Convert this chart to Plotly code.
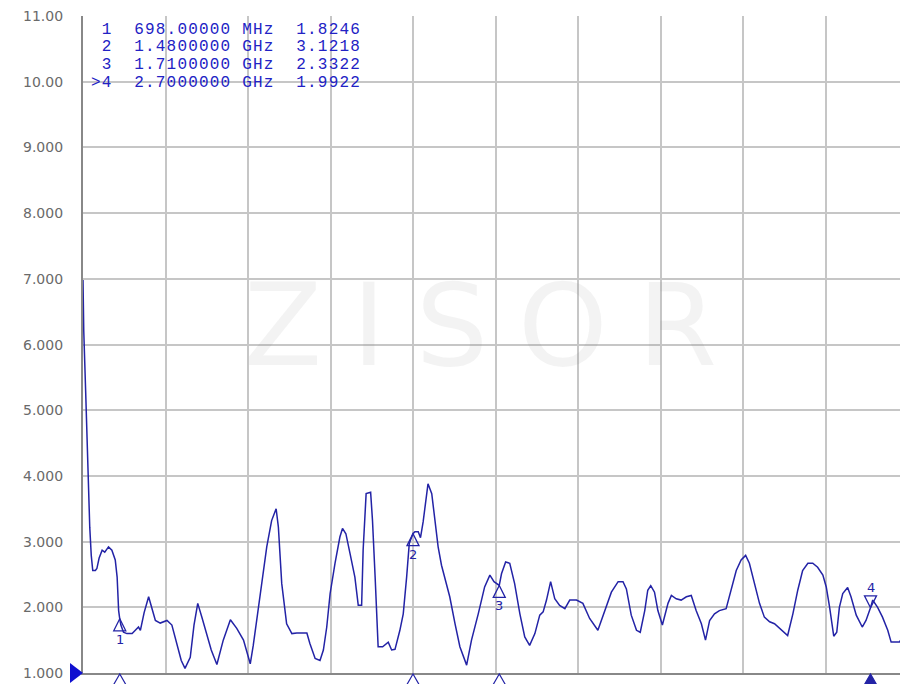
import plotly.graph_objects as go

# ---------------- data ----------------
freq_mhz = [
    600, 602, 607, 613, 618, 622, 626, 633, 637, 643,
    651, 658, 668, 677, 686, 691, 695, 698, 701, 708,
    717, 731, 739, 748, 753, 763, 775, 785, 793, 806,
    824, 837, 850, 862, 872, 886, 896, 906, 917, 930,
    942, 957, 974, 993, 1010, 1028, 1046, 1054, 1068, 1078,
    1090, 1103, 1115, 1121, 1130, 1143, 1157, 1170, 1197, 1205,
    1219, 1232, 1241, 1250, 1259, 1272, 1285, 1292, 1301, 1312,
    1325, 1334, 1343, 1347, 1352, 1355, 1367, 1372, 1379, 1383,
    1387, 1399, 1414, 1423, 1432, 1445, 1454, 1463, 1470, 1480,
    1485, 1494, 1500, 1507, 1514, 1520, 1530, 1538, 1547, 1556,
    1565, 1578, 1592, 1605, 1623, 1636, 1654, 1671, 1685, 1696,
    1710, 1716, 1727, 1738, 1751, 1765, 1778, 1791, 1805, 1818,
    1827, 1836, 1847, 1858, 1871, 1885, 1898, 1916, 1933, 1951,
    1973, 1991, 2009, 2027, 2040, 2049, 2062, 2076, 2086, 2098,
    2106, 2114, 2124, 2133, 2145, 2160, 2169, 2182, 2195, 2209,
    2222, 2235, 2249, 2260, 2271, 2284, 2297, 2315, 2329, 2342,
    2355, 2367, 2377, 2391, 2404, 2417, 2431, 2444, 2462, 2479,
    2493, 2506, 2519, 2533, 2546, 2559, 2573, 2582, 2591, 2598,
    2602, 2610, 2617, 2626, 2639, 2648, 2662, 2678, 2688, 2700,
    2706, 2719, 2732, 2746, 2755, 2777, 2786, 2793, 2800,
]
swr = [
    6.98, 6.21, 5.30, 4.09, 3.22, 2.79, 2.56, 2.56, 2.59, 2.75,
    2.87, 2.84, 2.92, 2.87, 2.72, 2.46, 1.95, 1.8246, 1.73, 1.62,
    1.60, 1.60, 1.65, 1.70, 1.65, 1.92, 2.16, 1.98, 1.80, 1.76,
    1.80, 1.73, 1.45, 1.19, 1.07, 1.24, 1.73, 2.06, 1.85, 1.60,
    1.35, 1.13, 1.50, 1.81, 1.68, 1.50, 1.14, 1.42, 2.03, 2.41,
    2.92, 3.32, 3.50, 3.22, 2.36, 1.75, 1.60, 1.61, 1.61, 1.45,
    1.22, 1.19, 1.35, 1.70, 2.21, 2.67, 3.07, 3.20, 3.12, 2.82,
    2.46, 2.03, 2.03, 2.87, 3.30, 3.73, 3.75, 3.32, 2.46, 1.85,
    1.40, 1.40, 1.47, 1.35, 1.36, 1.65, 1.90, 2.46, 2.97, 3.1218,
    3.15, 3.15, 3.06, 3.30, 3.63, 3.88, 3.73, 3.37, 2.92, 2.64,
    2.46, 2.16, 1.75, 1.40, 1.12, 1.50, 1.90, 2.31, 2.49, 2.39,
    2.3322, 2.51, 2.69, 2.67, 2.36, 1.90, 1.55, 1.42, 1.60, 1.88,
    1.93, 2.11, 2.39, 2.13, 2.03, 1.98, 2.11, 2.11, 2.06, 1.83,
    1.65, 1.95, 2.23, 2.39, 2.39, 2.28, 1.88, 1.65, 1.62, 1.95,
    2.26, 2.33, 2.23, 1.95, 1.73, 2.06, 2.18, 2.13, 2.11, 2.16,
    2.18, 1.95, 1.75, 1.50, 1.80, 1.90, 1.95, 1.98, 2.26, 2.56,
    2.72, 2.79, 2.67, 2.36, 2.06, 1.85, 1.78, 1.75, 1.65, 1.57,
    1.90, 2.26, 2.56, 2.67, 2.67, 2.61, 2.49, 2.31, 2.00, 1.70,
    1.56, 1.62, 2.00, 2.21, 2.30, 2.16, 1.88, 1.70, 1.80, 1.9922,
    2.11, 2.00, 1.85, 1.65, 1.47, 1.47, 1.55, 1.95, 2.06,
]

marker_ids = ["1", "2", "3", "4"]
marker_freq = [698, 1480, 1710, 2700]
marker_swr = [1.8246, 3.1218, 2.3322, 1.9922]
active_marker = "4"

y_ticks = [1, 2, 3, 4, 5, 6, 7, 8, 9, 10, 11]
y_tick_labels = ["1.000", "2.000", "3.000", "4.000", "5.000", "6.000",
                 "7.000", "8.000", "9.000", "10.00", "11.00"]
x_start, x_stop, x_div = 600, 2800, 220
watermark = "ZISOR"

# ---------------- style ----------------
OFF = 8                      # default page margin of the html body
W, H = 908 - OFF, 684 - OFF
ML, MR, MT = 83 - OFF, 0, 16 - OFF
MB = H - (673 - OFF)
PW, PH = W - ML - MR, H - MT - MB
BLUE = "#2323a6"
TXT_BLUE = "#2222c4"
GRID = "#c6c6c6"
AXIS = "#888888"


def px_x(px):
    """window pixel -> paper fraction"""
    return (px - OFF - ML) / PW


def px_y(py):
    return (H - MB - (py - OFF)) / PH


fig = go.Figure()

fig.add_trace(go.Scatter(
    x=freq_mhz, y=swr, mode="lines",
    line=dict(color=BLUE, width=1.5),
    hoverinfo="skip", showlegend=False,
))

shapes = []
annotations = []

# marker triangles on the bottom axis
for mid, f in zip(marker_ids, marker_freq):
    active = mid == active_marker
    shapes.append(dict(
        type="path", xref="x", yref="paper", xsizemode="pixel", ysizemode="pixel",
        xanchor=f, yanchor=0, path="M0,-1 L-11.5,-21 L11.5,-21 Z",
        line=dict(color=BLUE, width=1.2),
        fillcolor=BLUE if active else "rgba(0,0,0,0)"))

# reference level marker on the left (at the bottom of the scale, y = 1)
shapes.append(dict(
    type="path", xref="paper", yref="paper", xsizemode="pixel", ysizemode="pixel",
    xanchor=0, yanchor=0, path="M0,0 L-13,10 L-13,-10 Z",
    line=dict(color="#1010d0", width=0), fillcolor="#1010d0"))

# markers on the trace
for mid, f, v in zip(marker_ids, marker_freq, marker_swr):
    if mid == active_marker:
        path = "M0,0 L-6,12 L6,12 Z"
        annotations.append(dict(
            x=f, y=v, xref="x", yref="y", text=mid, showarrow=False,
            yanchor="bottom", yshift=11,
            font=dict(family="DejaVu Sans", size=13, color=BLUE)))
    else:
        path = "M0,0 L-6,-12 L6,-12 Z"
        annotations.append(dict(
            x=f, y=v, xref="x", yref="y", text=mid, showarrow=False,
            yanchor="top", yshift=-11,
            font=dict(family="DejaVu Sans", size=13, color=BLUE)))
    shapes.append(dict(
        type="path", xref="x", yref="y", xsizemode="pixel", ysizemode="pixel",
        xanchor=f, yanchor=v, path=path,
        line=dict(color=BLUE, width=1.3), fillcolor="rgba(0,0,0,0)"))

# marker table
row_y = [30, 47.5, 65, 82.5]
for i, (mid, f, v) in enumerate(zip(marker_ids, marker_freq, marker_swr)):
    fstr = f"{f:.5f} MHz" if f < 1000 else f"{f / 1000:.7f} GHz"
    prefix = (">" if mid == active_marker else " ") + mid
    line = f"{prefix}  {fstr}  {v:.4f}".replace(" ", "\u00a0")
    annotations.append(dict(
        x=px_x(89), y=px_y(row_y[i]), xref="paper", yref="paper",
        xanchor="left", yanchor="middle",
        text=f'<span style="letter-spacing:1.2px">{line}</span>',
        showarrow=False,
        font=dict(family="Liberation Mono", size=16, color=TXT_BLUE)))

# y tick labels
for v, lab in zip(y_ticks, y_tick_labels):
    annotations.append(dict(
        x=0, y=v, xref="paper", yref="y", xanchor="right", yanchor="middle",
        xshift=-18, text=lab, showarrow=False,
        font=dict(family="DejaVu Sans", size=14, color="#6a6a6a")))

# watermark
annotations.append(dict(
    x=px_x(480), y=px_y(325), xref="paper", yref="paper", xshift=15,
    text=f'<span style="letter-spacing:30px">{watermark}</span>',
    showarrow=False, xanchor="center", yanchor="middle",
    font=dict(family="DejaVu Sans", size=114, color="rgba(120,120,120,0.09)")))

fig.update_layout(
    width=W, height=H,
    margin=dict(l=ML, r=MR, t=MT, b=MB, pad=0),
    paper_bgcolor="white", plot_bgcolor="white",
    shapes=shapes, annotations=annotations,
    xaxis=dict(range=[x_start, x_stop], tick0=x_start, dtick=x_div,
               showgrid=True, gridcolor=GRID, gridwidth=1.5,
               showticklabels=False, ticks="", zeroline=False,
               showline=True, linecolor=AXIS, linewidth=2, mirror=False,
               fixedrange=True),
    yaxis=dict(range=[y_ticks[0], y_ticks[-1]], tick0=1, dtick=1,
               showgrid=True, gridcolor=GRID, gridwidth=1.5,
               showticklabels=False, ticks="", zeroline=False,
               showline=True, linecolor=AXIS, linewidth=2, mirror=False,
               fixedrange=True),
)

fig.write_html("out.html")
